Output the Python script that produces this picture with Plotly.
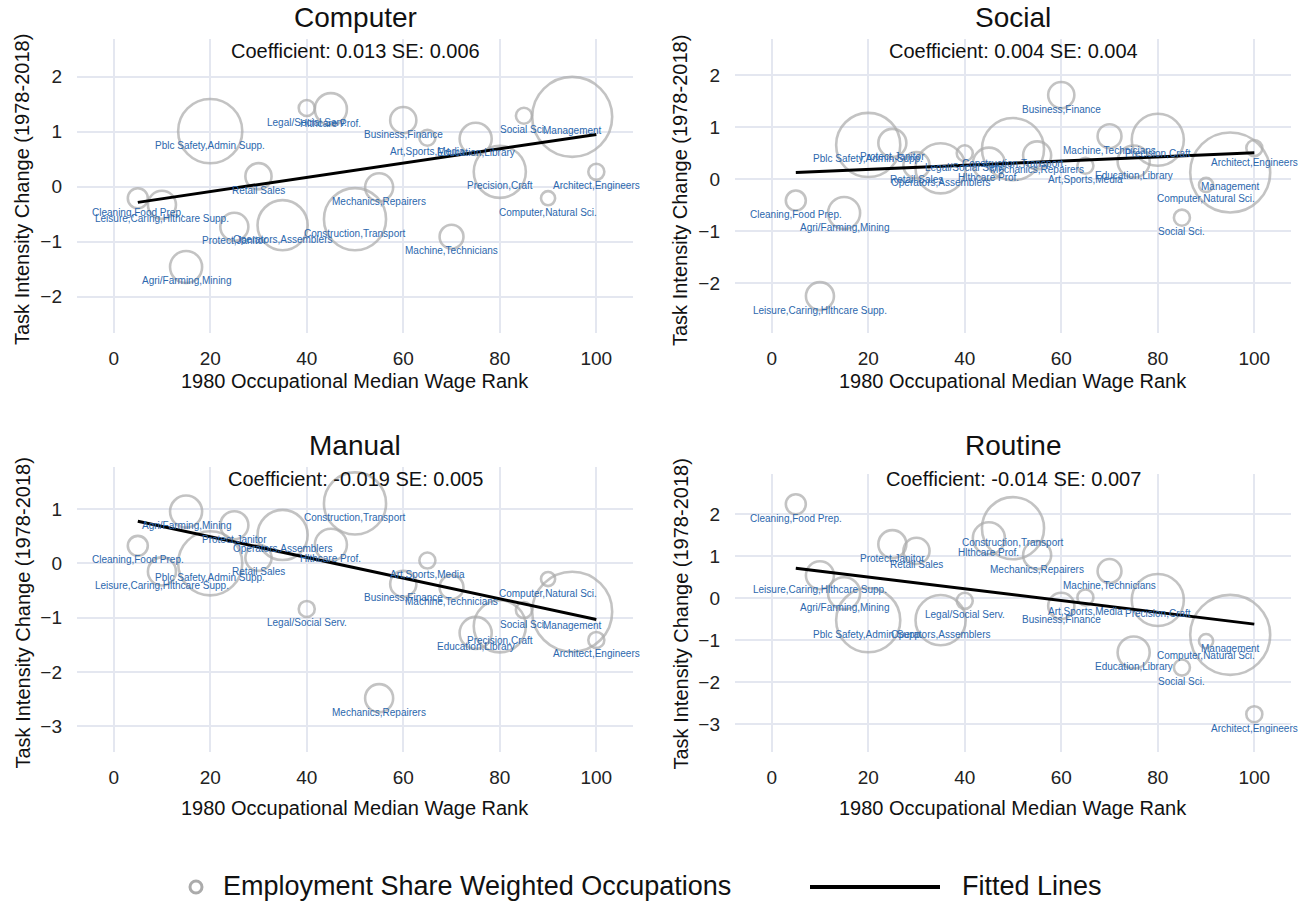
import plotly.graph_objects as go

# ---- data -------------------------------------------------------------
occupations = [
    "Cleaning,Food Prep.", "Leisure,Caring,Hlthcare Supp.", "Agri/Farming,Mining",
    "Pblc Safety,Admin Supp.", "Protect,Janitor", "Retail Sales",
    "Operators,Assemblers", "Legal/Social Serv.", "Hlthcare Prof.",
    "Construction,Transport", "Mechanics,Repairers", "Business,Finance",
    "Art,Sports,Media", "Machine,Technicians", "Education,Library",
    "Precision,Craft", "Social Sci.", "Computer,Natural Sci.", "Management",
    "Architect,Engineers",
]
wage_rank = [5, 10, 15, 20, 25, 30, 35, 40, 45, 50, 55, 60, 65, 70, 75, 80, 85, 90, 95, 100]
emp_share = [1.4, 2.75, 3.6, 14.4, 2.75, 2.4, 8.8, 0.9, 3.6, 13.5,
             2.75, 2.4, 0.9, 2.0, 3.6, 9.5, 0.9, 0.7, 22.4, 0.9]

computer = [-0.21, -0.33, -1.46, 1.01, -0.73, 0.19, -0.70, 1.43, 1.41, -0.59,
            -0.01, 1.21, 0.89, -0.91, 0.87, 0.27, 1.29, -0.21, 1.27, 0.27]
social = [-0.41, -2.25, -0.65, 0.66, 0.70, 0.27, 0.21, 0.50, 0.30, 0.58,
          0.46, 1.62, 0.26, 0.83, 0.34, 0.76, -0.74, -0.11, 0.13, 0.60]
manual = [0.32, -0.15, 0.95, 0.00, 0.70, 0.10, 0.52, -0.84, 0.34, 1.10,
          -2.48, -0.38, 0.05, -0.44, -1.28, -1.16, -0.86, -0.29, -0.89, -1.41]
routine = [2.24, 0.55, 0.12, -0.52, 1.29, 1.13, -0.52, -0.06, 1.43, 1.67,
           1.03, -0.18, 0.02, 0.65, -1.29, -0.04, -1.65, -1.02, -0.87, -2.76]

task_names = ["Computer", "Social", "Manual", "Routine"]
task_values = [computer, social, manual, routine]
coefficients = [0.013, 0.004, -0.019, -0.014]
std_errors = [0.006, 0.004, 0.005, 0.007]
intercepts = [-0.35, 0.11, 0.8675, 0.785]

x_ticks = [0, 20, 40, 60, 80, 100]

# ---- layout geometry (pixels) ----------------------------------------
W, H = 1308, 903
panel_x = [(77, 633), (735, 1291), (77, 633), (735, 1291)]
panel_y = [(39, 333), (39, 333), (467, 752), (474, 752)]
y_ranges = [(-2.66, 2.685), (-2.96, 2.70), (-3.47, 1.77), (-3.66, 2.96)]
x_range = (-7.6, 107.6)
title_top = [39, 39, 467, 467]

FONT = "Liberation Sans, Arial, sans-serif"
GRID = "#E4E7F0"
RING = "#ABABAB"
LABEL_BLUE = "#2B67AD"


def px_x(p):
    return p / W


def px_y(p):
    return 1 - p / H


fig = go.Figure()
annotations = []
shapes = []

for i, (name, vals) in enumerate(zip(task_names, task_values)):
    ax = "" if i == 0 else str(i + 1)
    xref, yref = "x" + ax, "y" + ax

    fig.add_trace(go.Scatter(
        x=wage_rank, y=vals, mode="markers", xaxis=xref, yaxis=yref,
        marker=dict(size=emp_share, sizemode="area", sizeref=2 * 22.4 / 6400,
                    color="rgba(0,0,0,0)", line=dict(color=RING, width=2.6)),
        showlegend=False, hoverinfo="text", text=occupations,
    ))

    x0, x1 = min(wage_rank), max(wage_rank)
    b, a = coefficients[i], intercepts[i]
    fig.add_trace(go.Scatter(
        x=[x0, x1], y=[a + b * x0, a + b * x1], mode="lines",
        xaxis=xref, yaxis=yref, line=dict(color="black", width=3),
        showlegend=False, hoverinfo="skip",
    ))

    for occ, xr, yv in zip(occupations, wage_rank, vals):
        annotations.append(dict(
            x=xr, y=yv, xref=xref, yref=yref, text=occ, showarrow=False,
            yshift=-14, font=dict(family=FONT, size=10, color=LABEL_BLUE),
        ))

    (l, r), (t, btm) = panel_x[i], panel_y[i]
    cx = (l + r) / 2
    fig.layout["xaxis" + ax] = dict(
        domain=[px_x(l), px_x(r)], anchor=yref, range=list(x_range),
        tickvals=x_ticks, showgrid=True, gridcolor=GRID, gridwidth=2,
        zeroline=False, showline=False, ticks="", ticklabelstandoff=12,
        tickfont=dict(family=FONT, size=19, color="#222"),
    )
    fig.layout["yaxis" + ax] = dict(
        domain=[px_y(btm), px_y(t)], anchor=xref, range=list(y_ranges[i]),
        dtick=1, showgrid=True, gridcolor=GRID, gridwidth=2,
        zeroline=False, showline=False, ticks="", ticklabelstandoff=14,
        tickfont=dict(family=FONT, size=19, color="#222"),
    )

    tt = title_top[i]
    # panel title and regression summary
    annotations.append(dict(
        x=px_x(cx), y=px_y(tt - 22), xref="paper", yref="paper", text=name,
        showarrow=False, font=dict(family=FONT, size=28, color="#111"),
        xanchor="center", yanchor="middle",
    ))
    annotations.append(dict(
        x=px_x(cx), y=px_y(tt + 12), xref="paper", yref="paper",
        text=f"Coefficient: {coefficients[i]:.3f} SE: {std_errors[i]:.3f}",
        showarrow=False, font=dict(family=FONT, size=20, color="#111"),
        xanchor="center", yanchor="middle",
    ))
    # axis titles
    annotations.append(dict(
        x=px_x(cx), y=px_y(btm + (48 if i < 2 else 56)), xref="paper", yref="paper",
        text="1980 Occupational Median Wage Rank", showarrow=False,
        font=dict(family=FONT, size=20, color="#111"),
        xanchor="center", yanchor="middle",
    ))
    annotations.append(dict(
        x=px_x(l - 55), y=px_y((tt + btm) / 2 + 4), xref="paper", yref="paper",
        text="Task Intensity Change (1978-2018)", showarrow=False, textangle=-90,
        font=dict(family=FONT, size=20, color="#111"),
        xanchor="center", yanchor="middle",
    ))

# ---- legend ----------------------------------------------------------
leg_y = 887
shapes.append(dict(
    type="circle", xref="paper", yref="paper",
    x0=px_x(190), x1=px_x(202), y0=px_y(leg_y + 6), y1=px_y(leg_y - 6),
    line=dict(color=RING, width=3), fillcolor="rgba(0,0,0,0)",
))
annotations.append(dict(
    x=px_x(221), y=px_y(leg_y - 1), xref="paper", yref="paper",
    text="Employment Share Weighted Occupations", showarrow=False,
    font=dict(family=FONT, size=27, color="#111"), xanchor="left", yanchor="middle",
))
shapes.append(dict(
    type="line", xref="paper", yref="paper",
    x0=px_x(810), x1=px_x(940), y0=px_y(leg_y), y1=px_y(leg_y),
    line=dict(color="black", width=4),
))
annotations.append(dict(
    x=px_x(960), y=px_y(leg_y - 1), xref="paper", yref="paper",
    text="Fitted Lines", showarrow=False,
    font=dict(family=FONT, size=27, color="#111"), xanchor="left", yanchor="middle",
))

fig.update_layout(
    width=W, height=H, margin=dict(l=0, r=0, t=0, b=0),
    paper_bgcolor="white", plot_bgcolor="white",
    annotations=annotations, shapes=shapes, showlegend=False,
    font=dict(family=FONT),
)

fig.write_html("out.html")
